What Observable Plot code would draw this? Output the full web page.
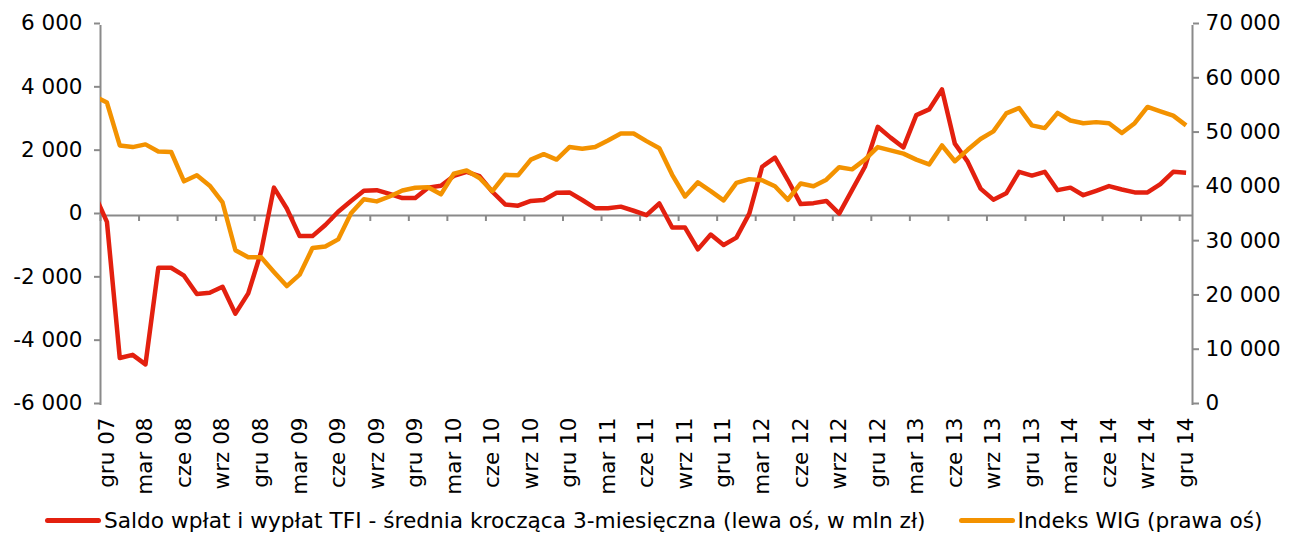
<!DOCTYPE html>
<html><head><meta charset="utf-8">
<script src="https://cdn.jsdelivr.net/npm/d3@7"></script>
<script src="https://cdn.jsdelivr.net/npm/@observablehq/plot@0.6"></script>
<style>
html,body{margin:0;padding:0;background:#fff;}
body{font-family:"DejaVu Sans",Verdana,sans-serif;width:1291px;height:536px;overflow:hidden;}
#chart svg{display:block;}
#legend{display:flex;align-items:center;height:30px;padding-left:45px;font-size:21.7px;color:#000;white-space:nowrap;}
.sw{display:inline-block;width:56px;height:5px;border-radius:3px;margin-right:3px;}
</style></head><body><div id="chart"></div><div id="legend"></div>
<script>
// Months: index 0 = lis 07 (outside the frame), index 1 = gru 07 ... index 85 = gru 14
const tickLabels = ["gru 07","mar 08","cze 08","wrz 08","gru 08","mar 09","cze 09","wrz 09","gru 09",
  "mar 10","cze 10","wrz 10","gru 10","mar 11","cze 11","wrz 11","gru 11","mar 12","cze 12","wrz 12",
  "gru 12","mar 13","cze 13","wrz 13","gru 13","mar 14","cze 14","wrz 14","gru 14"];

// Saldo wpłat i wypłat TFI - 3M moving average (mln zł), left axis
const saldo = [700,-200,-4500,-4400,-4700,-1650,-1650,-1900,-2480,-2440,
  -2250,-3100,-2460,-1150,880,220,-650,-650,-300,120,
  460,780,800,680,550,550,880,940,1250,1380,
  1240,750,350,310,460,490,720,730,490,230,
  230,280,150,10,380,-380,-380,-1070,-600,-930,
  -700,60,1540,1830,1120,360,390,460,60,800,
  1540,2800,2460,2150,3170,3350,3980,2270,1700,850,
  500,700,1380,1260,1380,800,880,640,780,930,
  820,730,730,990,1380,1350];

// Indeks WIG, right axis
const wig = [57000,55800,47900,47600,48100,46800,46700,41300,42400,40500,
  37400,28600,27300,27300,24600,22000,24100,29000,29300,30600,
  35400,38000,37600,38500,39600,40100,40200,38900,42700,43300,
  41900,39500,42500,42400,45300,46300,45300,47600,47300,47600,
  48800,50100,50100,48700,47400,42500,38500,41100,39500,37800,
  41000,41700,41500,40400,37900,40900,40400,41600,43900,43500,
  45300,47600,47000,46400,45300,44400,47900,45000,47100,49100,
  50500,53800,54800,51600,51100,53900,52500,52000,52200,52000,
  50200,52000,55000,54200,53400,51600];

const leftTicks = [-6000,-4000,-2000,0,2000,4000,6000];
const rightTicks = [0,10000,20000,30000,40000,50000,60000,70000];
const seriesNames = ["Saldo wpłat i wypłat TFI - średnia krocząca 3-miesięczna (lewa oś, w mln zł)","Indeks WIG (prawa oś)"];
const colors = ["#e3200f","#f39200"];
const axisColor = "#8a8a8a";

const L0 = -6000, L1 = 6000, R0 = 0, R1 = 70000;
const toLeft = v => L0 + (v - R0) * (L1 - L0) / (R1 - R0);
const fromLeft = y => R0 + (y - L0) * (R1 - R0) / (L1 - L0);
const fmt = d3.formatLocale({decimal: ",", thousands: " ", grouping: [3], currency: ["", ""], minus: "-"}).format(",");

const data = saldo.map((v, i) => ({i, saldo: v, wig: wig[i]}));
const labelPos = tickLabels.map((_, k) => 1 + 3 * k);
const tickPos = d3.range(0.5, 85, 3);

const H = 505, mT = 25, mB = 100;
const pxPerUnit = (H - mT - mB) / (L1 - L0);
const tickLen = 6 / pxPerUnit;

const chart = Plot.plot({
  width: 1291, height: H,
  marginTop: mT, marginBottom: mB, marginLeft: 100, marginRight: 99,
  style: {fontFamily: "DejaVu Sans, Verdana, sans-serif", fontSize: "21.5px", color: "#000", background: "#fff", overflow: "visible"},
  x: {domain: [0.5, 85.5], axis: null},
  y: {domain: [L0, L1], axis: null},
  marks: [
    Plot.ruleY([0], {stroke: axisColor, strokeWidth: 2}),
    Plot.ruleX([0.5, 85.5], {stroke: axisColor, strokeWidth: 2}),
    Plot.ruleX(tickPos, {y1: 0, y2: -tickLen, stroke: axisColor, strokeWidth: 2}),
    Plot.axisY({anchor: "left", label: null, ticks: leftTicks, tickSize: 6, tickPadding: 12, tickFormat: fmt, stroke: axisColor, strokeWidth: 2, fill: "#000", dy: -2}),
    Plot.axisY({anchor: "right", label: null, ticks: rightTicks.map(toLeft), tickSize: 6, tickPadding: 7, tickFormat: d => fmt(Math.round(fromLeft(d))), stroke: axisColor, strokeWidth: 2, fill: "#000", dy: -2}),
    Plot.axisX({anchor: "bottom", label: null, ticks: labelPos, tickSize: 0, tickPadding: 12, tickRotate: -90, tickFormat: d => tickLabels[(d - 1) / 3], fill: "#000"}),
    Plot.line(data, {x: "i", y: "saldo", stroke: colors[0], strokeWidth: 4.5, strokeLinejoin: "round", strokeLinecap: "butt", clip: true}),
    Plot.line(data, {x: "i", y: d => toLeft(d.wig), stroke: colors[1], strokeWidth: 4.5, strokeLinejoin: "round", strokeLinecap: "butt", clip: true})
  ]
});
document.getElementById("chart").appendChild(chart);

const leg = document.getElementById("legend");
seriesNames.forEach((name, k) => {
  const item = document.createElement("span");
  item.style.display = "inline-flex";
  item.style.alignItems = "center";
  item.style.marginRight = k === 0 ? "33px" : "0";
  const sw = document.createElement("span");
  sw.className = "sw";
  sw.style.background = colors[k];
  const t = document.createElement("span");
  t.textContent = name;
  item.appendChild(sw); item.appendChild(t);
  leg.appendChild(item);
});
</script></body></html>
